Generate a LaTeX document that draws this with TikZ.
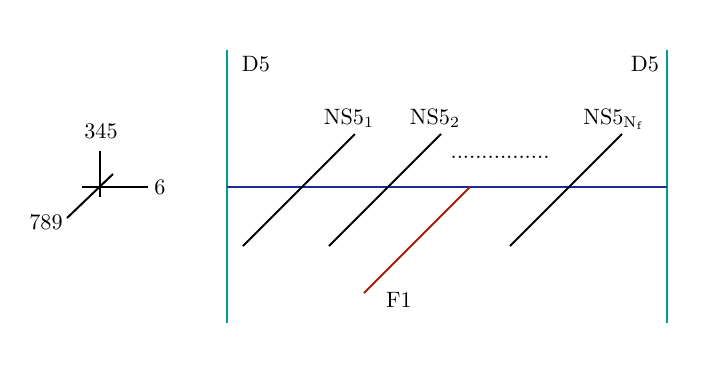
\documentclass[tikz,border=0pt]{standalone}
\usepackage{tikz}
\definecolor{braneteal}{RGB}{0,155,155}
\definecolor{branenavy}{RGB}{30,40,150}
\definecolor{branered}{RGB}{170,28,10}

\begin{document}
\begin{tikzpicture}[
  x=0.45pt,y=-0.45pt,
  every node/.style={font=\normalsize,inner sep=1pt},
  dfive/.style={draw=braneteal,line width=1pt},
  dfour/.style={draw=branenavy,line width=1.2pt},
  nsfive/.style={draw=black,line width=0.9pt},
  fone/.style={draw=branered,line width=0.9pt},
  axis/.style={draw=black,line width=0.9pt}
]
\useasboundingbox (0,0) rectangle (706,381);

% coordinate axes
\coordinate (origin) at (100,187);
\draw[axis] (100,151) -- (100,197);
\draw[axis] (82,187) -- (148,187);
\draw[axis] (67,218) -- (113,174);
\node (lab345) at (101,131) {345};
\node (lab6) at (160,187) {6};
\node (lab789) at (46,222) {789};

% D5 branes
\coordinate (dl-top) at (227,50);
\coordinate (dl-bot) at (227,323);
\coordinate (dr-top) at (667,50);
\coordinate (dr-bot) at (667,323);
\draw[dfive] (dl-top) -- (dl-bot);
\draw[dfive] (dr-top) -- (dr-bot);
\node (dl) at (256,64) {D5};
\node (dr) at (645,64) {D5};

% D4 brane
\draw[dfour] (227,187) -- (667,187);

% NS5 branes
\draw[nsfive] (243,246) -- (355,134);
\draw[nsfive] (329,246) -- (441,134);
\draw[nsfive] (510,246) -- (622,134);
\node[anchor=base] (ns1) at (349,124) {NS5$_1$};
\node[anchor=base] (ns2) at (435,124) {NS5$_2$};
\node[anchor=base] (nsn) at (614,124) {NS5$_{\mathrm{N_f}}$};
\node (dots) at (500,157) {................};

% F1 string
\draw[fone] (364,293) -- (470,187);
\node (f1) at (399,300) {F1};
\end{tikzpicture}
\end{document}
